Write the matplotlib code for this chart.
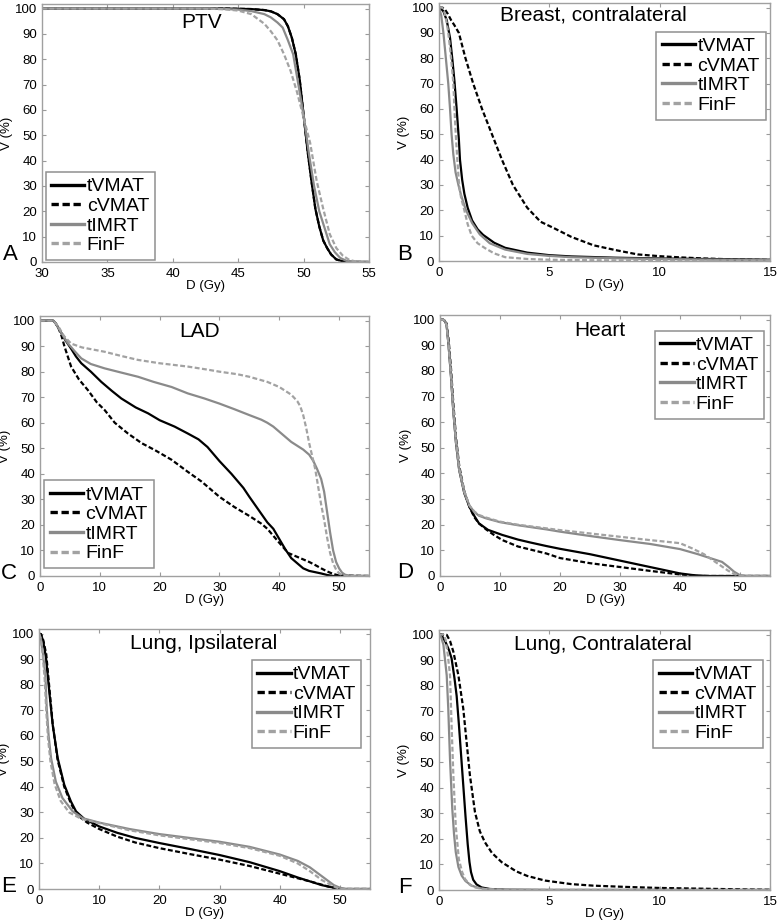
import numpy as np
import matplotlib
matplotlib.use("Agg")
import matplotlib.pyplot as plt

plt.rcParams['font.family'] = ['Liberation Sans', 'DejaVu Sans']

# ---- data: dose (Gy) / volume (%) ----
# A: PTV
ptv_tvmat_d = [30, 44, 46, 47, 47.5, 48, 48.5, 48.8, 49.1, 49.4, 49.7, 50.0, 50.3, 50.6, 50.9, 51.2, 51.5, 51.8, 52.1, 52.5, 53, 53.5, 55]
ptv_tvmat_v = [100, 100, 99.8, 99.4, 98.9, 97.8, 95.8, 93, 88.5, 82, 72, 58, 44, 32, 21, 14, 8.5, 5.5, 3, 1.0, 0.3, 0.05, 0]
ptv_cvmat_d = [30, 44, 46, 47, 47.5, 48, 48.5, 48.8, 49.1, 49.4, 49.7, 50.0, 50.3, 50.6, 50.9, 51.2, 51.5, 51.8, 52.1, 52.5, 53, 53.5, 55]
ptv_cvmat_v = [100, 100, 99.8, 99.4, 98.9, 97.8, 95.8, 93, 88.5, 82, 72, 58, 44, 32, 21, 14, 8.5, 5.5, 3, 1.0, 0.3, 0.05, 0]
ptv_timrt_d = [30, 43, 45, 46, 47, 47.5, 48, 48.4, 48.8, 49.2, 49.6, 50.0, 50.4, 50.8, 51.2, 51.6, 52.0, 52.4, 52.8, 53.3, 54, 55]
ptv_timrt_v = [100, 100, 99.6, 99.0, 97.8, 96.5, 94.5, 92.5, 87.5, 82, 70, 58, 43, 30, 20, 13.5, 7, 3.8, 1.6, 0.4, 0.05, 0]
ptv_finf_d = [30, 42, 43, 44, 45, 46, 47, 47.5, 48, 48.5, 49, 49.5, 50, 50.5, 51, 51.5, 52, 52.5, 53, 53.5, 54, 55]
ptv_finf_v = [100, 100, 99.9, 99.7, 99.2, 97.8, 94, 91, 87.5, 82, 75.5, 67, 57, 47, 32, 21, 11, 5.5, 2.5, 0.8, 0.2, 0]

# B: Breast, contralateral
brc_tvmat_d = [0, 0.1, 0.2, 0.35, 0.5, 0.6, 0.7, 0.8, 0.9, 0.95, 1.05, 1.15, 1.3, 1.5, 1.75, 2.0, 2.5, 3, 4, 5, 6, 8, 10, 12, 15]
brc_tvmat_v = [100, 99.5, 98.5, 95, 88, 80, 71, 60, 48, 40, 32, 26.5, 21, 16, 12.5, 10.3, 7.2, 5.2, 3.3, 2.3, 1.8, 1.3, 1.0, 0.8, 0.5]
brc_cvmat_d = [0, 0.15, 0.25, 0.4, 0.55, 0.7, 0.9, 1.2, 1.55, 1.95, 2.4, 2.85, 3.35, 4.0, 4.6, 5.2, 6.0, 7.0, 8.0, 9.0, 10.0, 11.0, 12.0, 13.5, 15.0]
brc_cvmat_v = [100, 100, 99.5, 97.5, 95, 93, 90, 80, 70, 60, 50, 40, 30, 21, 15.5, 13, 9.5, 6.2, 4.3, 2.6, 1.9, 1.4, 1.0, 0.6, 0.4]
brc_timrt_d = [0, 0.1, 0.2, 0.3, 0.42, 0.5, 0.57, 0.65, 0.75, 0.88, 1.0, 1.2, 1.5, 1.85, 2.3, 3, 4, 5, 6, 8, 10, 12, 15]
brc_timrt_v = [100, 97, 90, 81, 70, 60, 50, 42, 35, 30, 26, 20.5, 15, 10.5, 7, 4.5, 2.8, 2.0, 1.5, 1.1, 0.8, 0.6, 0.4]
brc_finf_d = [0, 0.15, 0.25, 0.35, 0.42, 0.5, 0.58, 0.65, 0.7, 0.76, 0.83, 0.91, 1.0, 1.15, 1.3, 1.48, 1.75, 2.1, 2.5, 3, 4, 5, 7, 10, 15]
brc_finf_v = [100, 100, 98, 94, 90, 84, 77, 70, 60, 50, 40, 30, 25, 20, 14.5, 10, 7, 5, 3, 1.5, 0.8, 0.5, 0.3, 0.2, 0.1]

# C: LAD
lad_tvmat_d = [0, 2.2, 2.6, 3.3, 4.2, 5.2, 6.0, 6.9, 8.5, 10.25, 12, 13.6, 16, 18.06, 20, 22.5, 24.7, 26.5, 28, 30, 32, 34, 35, 36.5, 38, 39, 40, 41, 42, 43, 44, 45, 46, 47, 48, 49, 55]
lad_tvmat_v = [100, 100, 99, 96.3, 92.5, 89, 86, 83.3, 80, 76, 72.5, 69.5, 66, 63.7, 61, 58.5, 55.8, 53.5, 50.5, 45, 40, 34.5, 31, 26, 21, 18.5, 14.5, 10.5, 7, 5, 3, 2, 1.5, 1.0, 0.4, 0, 0]
lad_cvmat_d = [0, 2.2, 2.6, 3.1, 3.6, 4.1, 5.2, 6.5, 8.0, 9.5, 10.8, 12.5, 14.7, 17, 19.2, 22, 24.7, 27, 30, 32.5, 35, 37, 38, 40, 41.5, 43, 45, 46, 47, 48, 49, 50, 55]
lad_cvmat_v = [100, 100, 99, 97, 94, 89.8, 82, 77, 72.8, 68, 65, 60, 55.8, 52, 49.3, 45.5, 40.8, 37, 31, 27, 23.5, 20.5, 18.5, 13, 9, 7.5, 5.5, 4.3, 3, 1.8, 0.8, 0.2, 0]
lad_timrt_d = [0, 2.2, 2.6, 3.1, 4.0, 4.7, 5.8, 6.9, 8.5, 10.8, 13.5, 16.4, 19, 22, 24.7, 27.5, 30, 32.5, 35, 37, 38, 39, 40, 41, 42, 43, 44, 45, 45.7, 46.3, 47, 47.5, 48, 48.5, 49, 49.5, 50, 50.5, 51, 52, 55]
lad_timrt_v = [100, 100, 99, 97, 93.5, 91, 88, 85.2, 83, 81.3, 79.7, 78, 76, 74, 71.5, 69.5, 67.5, 65.3, 63, 61.2, 60, 58.5, 56.5, 54.5, 52.5, 51, 49.5, 47.5, 45, 42, 38, 33, 25, 17, 10, 5.5, 3, 1.3, 0.5, 0, 0]
lad_finf_d = [0, 2.2, 2.6, 3.1, 4.0, 5.2, 7.0, 10.8, 13.5, 16.4, 20, 24.7, 28, 30, 33, 35, 38, 40, 41, 42, 43, 43.5, 44, 44.5, 45, 45.5, 46, 46.5, 47, 47.5, 48, 48.5, 49, 49.5, 50, 50.5, 51, 55]
lad_finf_v = [100, 100, 99, 97.6, 94, 91, 89.5, 87.8, 86.2, 84.6, 83.3, 82, 80.8, 80, 79, 78, 76, 74, 72.5, 71, 68.5, 66.5, 63, 58, 52, 47, 42, 35, 28, 22, 15, 9, 5, 2.5, 1, 0.4, 0, 0]

# D: Heart
hrt_tvmat_d = [0, 0.5, 0.8, 1.1, 1.44, 1.83, 2.2, 2.67, 3.2, 4.05, 4.9, 5.7, 6.5, 8, 10.4, 13, 15, 17.7, 20, 25, 30, 35, 38, 40, 42, 43, 45, 55]
hrt_tvmat_v = [100, 100, 99.5, 98, 89.8, 78, 65, 51.9, 41.4, 32.3, 27, 23.5, 20.5, 18, 16, 14.2, 13.1, 11.7, 10.6, 8.5, 6, 3.5, 2, 1, 0.4, 0.2, 0, 0]
hrt_cvmat_d = [0, 0.5, 0.8, 1.1, 1.44, 1.83, 2.2, 2.67, 3.2, 4.05, 4.9, 5.7, 6.5, 7.67, 9, 10.4, 13, 17.7, 20, 25, 30, 35, 40, 43, 55]
hrt_cvmat_v = [100, 100, 99.5, 98.5, 92, 81, 68, 54, 43, 33, 27, 23, 20.5, 18.2, 16, 14, 11.5, 8.8, 7, 5, 3.5, 2, 0.6, 0, 0]
hrt_timrt_d = [0, 0.5, 0.8, 1.1, 1.44, 1.83, 2.2, 2.67, 3.2, 4.05, 4.9, 5.7, 6.5, 7.67, 10, 13, 17.7, 20, 25, 30, 35, 40, 43, 45, 47, 48, 49, 50, 51, 55]
hrt_timrt_v = [100, 100, 99.5, 98, 89.8, 78, 65, 51.9, 41.4, 32.5, 27.5, 25, 23.5, 22.5, 21, 19.8, 18.2, 17.3, 15.6, 14, 12.5, 10.5, 8.5, 7, 5.5, 3.7, 1.7, 0.3, 0, 0]
hrt_finf_d = [0, 0.5, 0.8, 1.1, 1.44, 1.83, 2.2, 2.67, 3.2, 4.05, 4.9, 5.7, 6.5, 7.67, 10, 13, 17.7, 20, 25, 30, 35, 38, 40, 42, 44, 45, 46, 47, 48, 49, 50, 55]
hrt_finf_v = [100, 100, 99.5, 98, 90, 79, 66, 53, 42, 33, 27.5, 25.2, 23.8, 22.8, 21.2, 20, 18.6, 17.9, 16.6, 15.3, 14, 13.3, 12.8, 10.8, 8.5, 6.9, 5.3, 3.7, 2.1, 0.8, 0.1, 0]

# E: Lung, ipsilateral
lgi_tvmat_d = [0, 0.33, 0.7, 1.16, 1.7, 2.27, 3.1, 4.2, 5.3, 6.15, 7.5, 10, 13, 16, 20, 25, 30, 35, 40, 43, 45, 47, 49, 50, 55]
lgi_tvmat_v = [100, 99.7, 97, 90.6, 77.5, 64.4, 51.3, 40.8, 34.3, 30.4, 27.5, 24.5, 22, 20, 18, 15.7, 13.3, 10.5, 7, 4.5, 3, 1.5, 0.5, 0, 0]
lgi_cvmat_d = [0, 0.33, 0.7, 1.2, 1.75, 2.3, 3.1, 4.2, 5.3, 6.15, 7, 8, 10, 13, 16, 20, 25, 30, 35, 40, 45, 48, 50, 55]
lgi_cvmat_v = [100, 99.8, 97.5, 92, 78, 64, 50.5, 40, 33.5, 29.8, 27.8, 26, 23.5, 20.5, 18.2, 16, 13.7, 11.5, 9, 6, 3, 1, 0, 0]
lgi_timrt_d = [0, 0.3, 0.6, 1.05, 1.28, 1.6, 2.0, 2.8, 3.9, 5.6, 7.3, 10, 15, 20, 25, 30, 35, 40, 43, 45, 47, 49, 50, 51, 55]
lgi_timrt_v = [100, 98, 93, 84, 71, 60, 51.3, 42, 35.6, 30.4, 27.7, 26, 23.5, 21.5, 20, 18.5, 16.5, 13.5, 11, 8.5, 5, 1.5, 0.5, 0, 0]
lgi_finf_d = [0, 0.3, 0.6, 0.95, 1.2, 1.5, 1.9, 2.6, 3.6, 5.0, 7.0, 10, 15, 20, 25, 30, 35, 40, 43, 45, 47, 49, 50, 55]
lgi_finf_v = [100, 98, 92, 82, 70, 59, 50, 41, 34.5, 30, 27.5, 25.8, 23, 21, 19.5, 18, 16, 13, 10, 7, 3.5, 1, 0, 0]

# F: Lung, contralateral
lgc_tvmat_d = [0, 0.1, 0.3, 0.45, 0.57, 0.7, 0.8, 0.9, 1.0, 1.1, 1.2, 1.3, 1.38, 1.45, 1.55, 1.7, 1.93, 2.3, 3, 5, 15]
lgc_tvmat_v = [100, 100, 97, 94, 90.7, 83, 76, 65, 53, 41, 29, 18, 11, 7, 4, 2.2, 1, 0.4, 0.1, 0, 0]
lgc_cvmat_d = [0, 0.2, 0.35, 0.5, 0.65, 0.88, 1.1, 1.25, 1.4, 1.63, 1.85, 2.08, 2.4, 2.84, 3.5, 4.0, 4.8, 6, 7, 8.5, 10, 12, 14, 15]
lgc_cvmat_v = [100, 100, 99.9, 97.5, 93.3, 84, 71, 58, 45, 30.5, 23, 18.7, 14.5, 10.9, 7.3, 5.5, 3.7, 2.3, 1.7, 1.2, 0.8, 0.5, 0.2, 0.1]
lgc_timrt_d = [0, 0.1, 0.2, 0.35, 0.42, 0.5, 0.6, 0.68, 0.76, 0.88, 1.03, 1.2, 1.48, 1.8, 2.1, 3, 15]
lgc_timrt_v = [100, 99, 96, 84, 71, 51, 32, 22, 14.8, 9, 5.6, 3.5, 1.7, 0.8, 0.4, 0.05, 0]
lgc_finf_d = [0, 0.2, 0.3, 0.4, 0.5, 0.57, 0.65, 0.76, 0.9, 1.05, 1.18, 1.4, 1.63, 2.0, 3, 15]
lgc_finf_v = [100, 100, 98, 92, 84, 64.5, 45, 25, 12, 7, 4.3, 2, 1, 0.4, 0.05, 0]

plan_names = ['tVMAT', 'cVMAT', 'tIMRT', 'FinF']
plan_colors = ['#000000', '#000000', '#8a8a8a', '#a2a2a2']
plan_styles = ['-', (0, (2.2, 1.1)), '-', (0, (2.2, 1.1))]

W, H = 778, 921
fig = plt.figure(figsize=(W / 100, H / 100), dpi=100)


def px_axes(l, t, r, b):
    return fig.add_axes([l / W, 1 - b / H, (r - l) / W, (b - t) / H])


def panel(rect, letter, letter_xy, title, title_xy, xlim, xticks, curves, leg_loc, leg_anchor):
    ax = px_axes(*rect)
    for (d, v), name, c, ls in zip(curves, plan_names, plan_colors, plan_styles):
        ax.plot(d, v, color=c, ls=ls, lw=1.6, label=name)
    ax.set_xlim(*xlim)
    ax.set_ylim(0, 101.8)
    ax.set_xticks(xticks)
    ax.set_yticks(range(0, 101, 10))
    ax.tick_params(direction='in', top=True, right=True, length=3, width=0.8,
                   color='#9a9a9a', labelsize=9.5)
    ax.tick_params(axis='x', pad=4.5)
    ax.tick_params(axis='y', pad=3.5)
    for s in ax.spines.values():
        s.set_color('#a0a0a0')
        s.set_linewidth(1.0)
    ax.set_xlabel('D (Gy)', fontsize=9.5, labelpad=0)
    ax.set_ylabel('V (%)', fontsize=9.5, labelpad=1)
    ax.text(title_xy[0], title_xy[1], title, transform=ax.transAxes,
            ha='center', va='center', fontsize=15)
    leg = ax.legend(loc=leg_loc, bbox_to_anchor=leg_anchor, fontsize=14,
                    handlelength=1.7, handletextpad=0.12, labelspacing=0.1,
                    borderpad=0.3, borderaxespad=0, fancybox=False,
                    framealpha=1, edgecolor='#909090')
    leg.get_frame().set_linewidth(1.1)
    for ln in leg.get_lines():
        ln.set_linewidth(2.4)
    fig.text(letter_xy[0] / W, 1 - letter_xy[1] / H, letter, fontsize=16,
             ha='center', va='center')
    return ax


panel((42, 4, 369, 262), 'A', (10, 255), 'PTV', (0.488, 0.927), (30, 55), range(30, 56, 5),
      [(ptv_tvmat_d, ptv_tvmat_v), (ptv_cvmat_d, ptv_cvmat_v),
       (ptv_timrt_d, ptv_timrt_v), (ptv_finf_d, ptv_finf_v)],
      'lower left', (0.011, 0.008))
panel((439, 3, 770, 261), 'B', (405, 254), 'Breast, contralateral', (0.465, 0.953), (0, 15), [0, 5, 10, 15],
      [(brc_tvmat_d, brc_tvmat_v), (brc_cvmat_d, brc_cvmat_v),
       (brc_timrt_d, brc_timrt_v), (brc_finf_d, brc_finf_v)],
      'upper right', (0.987, 0.889))
panel((40, 316, 369, 576), 'C', (9, 573), 'LAD', (0.486, 0.94), (0, 55), range(0, 51, 10),
      [(lad_tvmat_d, lad_tvmat_v), (lad_cvmat_d, lad_cvmat_v),
       (lad_timrt_d, lad_timrt_v), (lad_finf_d, lad_finf_v)],
      'lower left', (0.013, 0.03))
panel((440, 315, 770, 576), 'D', (405, 572), 'Heart', (0.485, 0.94), (0, 55), range(0, 51, 10),
      [(hrt_tvmat_d, hrt_tvmat_v), (hrt_cvmat_d, hrt_cvmat_v),
       (hrt_timrt_d, hrt_timrt_v), (hrt_finf_d, hrt_finf_v)],
      'upper right', (0.982, 0.94))
panel((39, 629, 370, 889), 'E', (9, 886), 'Lung, Ipsilateral', (0.4985, 0.945), (0, 55), range(0, 51, 10),
      [(lgi_tvmat_d, lgi_tvmat_v), (lgi_cvmat_d, lgi_cvmat_v),
       (lgi_timrt_d, lgi_timrt_v), (lgi_finf_d, lgi_finf_v)],
      'upper right', (0.973, 0.881))
panel((439, 630, 770, 890), 'F', (405, 887), 'Lung, Contralateral', (0.496, 0.945), (0, 15), [0, 5, 10, 15],
      [(lgc_tvmat_d, lgc_tvmat_v), (lgc_cvmat_d, lgc_cvmat_v),
       (lgc_timrt_d, lgc_timrt_v), (lgc_finf_d, lgc_finf_v)],
      'upper right', (0.978, 0.885))

fig.savefig('out.png', dpi=100)
